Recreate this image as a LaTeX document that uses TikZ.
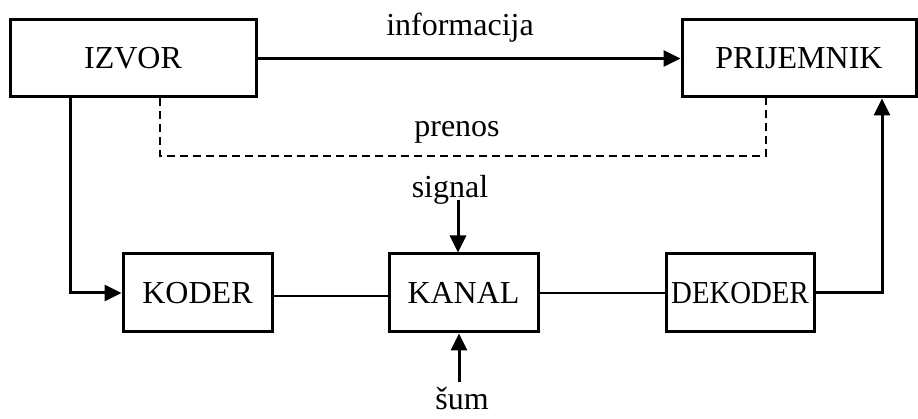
\documentclass[tikz,border=0pt]{standalone}
\usepackage{fontspec}
\setmainfont{Liberation Serif}
\usetikzlibrary{arrows.meta}

\begin{document}
\begin{tikzpicture}[x=1pt, y=-1pt, font=\fontsize{32}{38}\selectfont,
    blok/.style={shape=rectangle, draw=black, line width=3pt, inner sep=0pt},
    natpis/.style={anchor=base, inner sep=0pt},
    strelica/.style={line width=3pt, -{Triangle[length=17pt,width=16pt]}},
    veza/.style={line width=2pt}]
    \useasboundingbox (0,0) rectangle (918,419);
    \node[blok, minimum width=246pt, minimum height=77pt] at (133,58.5) (IZ) {IZVOR};
    \node[blok, minimum width=234pt, minimum height=77pt] at (799,58.5) (PR) {PRIJEMNIK};
    \node[blok, minimum width=149pt, minimum height=78pt] at (197.5,293) (KO) {KODER};
    \node[blok, minimum width=149pt, minimum height=78pt] at (463.5,293) (KA) {KANAL};
    \node[blok, minimum width=148pt, minimum height=78pt] at (740,293) (DE) {\scalebox{0.9}[1]{DEKODER}};
    \node[natpis] at (460,36) (INF) {informacija};
    \node[natpis] at (457,137) (PRE) {prenos};
    \node[natpis] at (450,198) (SIG) {signal};
    \node[natpis] at (462,409) (SUM) {šum};
    \coordinate (SIGk) at ([xshift=8pt,yshift=-2pt]SIG.base);
    \coordinate (SUMk) at ([xshift=-3pt,yshift=27pt]SUM.base);
    \draw[strelica] (IZ) -- (PR);
    \draw[veza, dashed, dash pattern=on 8pt off 5pt] ([xshift=27pt]IZ.south) -- ++(0,58) -| ([xshift=-33pt]PR.south);
    \draw[strelica] ([xshift=-63pt]IZ.south) |- (KO.west);
    \draw[veza] ([yshift=-3pt]KO.east) -- ([yshift=-3pt]KA.west);
    \draw[veza] (KA) -- (DE);
    \draw[strelica] (DE.east) -| ([xshift=83pt]PR.south);
    \draw[strelica] (SIGk) -- (SIGk |- KA.north);
    \draw[strelica] (SUMk) -- (SUMk |- KA.south);
\end{tikzpicture}
\end{document}
